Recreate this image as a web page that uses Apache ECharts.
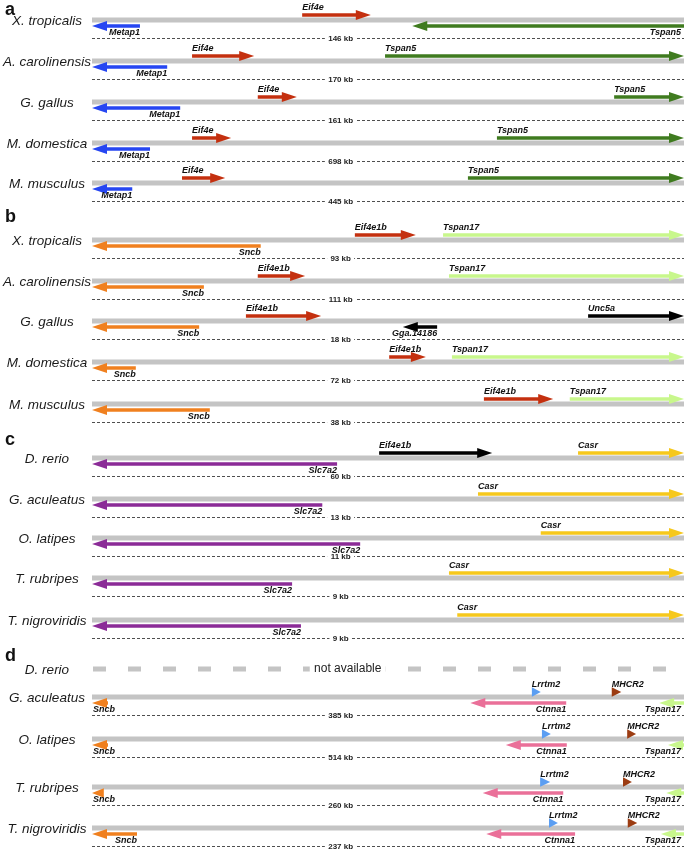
<!DOCTYPE html>
<html><head><meta charset="utf-8">
<script src="https://cdn.jsdelivr.net/npm/echarts@6/dist/echarts.min.js"></script>
<style>html,body{margin:0;padding:0;background:#fff}#c{width:685px;height:849px}</style>
</head><body><div id="c"></div>
<script>
// ================= DATA =================
const panelLetters = ["a", "b", "c", "d"];
const speciesA = ["X. tropicalis", "A. carolinensis", "G. gallus", "M. domestica", "M. musculus"];
const speciesB = ["X. tropicalis", "A. carolinensis", "G. gallus", "M. domestica", "M. musculus"];
const speciesC = ["D. rerio", "G. aculeatus", "O. latipes", "T. rubripes", "T. nigroviridis"];
const speciesD = ["D. rerio", "G. aculeatus", "O. latipes", "T. rubripes", "T. nigroviridis"];
// span of each region (kb); null = not available
const spanKbA = [146, 170, 161, 698, 445];
const spanKbB = [93, 111, 18, 72, 38];
const spanKbC = [60, 13, 11, 9, 9];
const spanKbD = [null, 385, 514, 260, 237];
// genes: [row, name, start (% of region), end (% of region), strand]
const genesA = [
  [0, "Metap1", 0, 8.1, -1], [0, "Eif4e", 35.5, 47.1, 1], [0, "Tspan5", 54.1, 100, -1],
  [1, "Metap1", 0, 12.7, -1], [1, "Eif4e", 16.9, 27.4, 1], [1, "Tspan5", 49.5, 100, 1],
  [2, "Metap1", 0, 14.9, -1], [2, "Eif4e", 28.0, 34.6, 1], [2, "Tspan5", 88.2, 100, 1],
  [3, "Metap1", 0, 9.8, -1], [3, "Eif4e", 16.9, 23.5, 1], [3, "Tspan5", 68.4, 100, 1],
  [4, "Metap1", 0, 6.8, -1], [4, "Eif4e", 15.2, 22.5, 1], [4, "Tspan5", 63.5, 100, 1]
];
const genesB = [
  [0, "Sncb", 0, 28.5, -1], [0, "Eif4e1b", 44.4, 54.7, 1], [0, "Tspan17", 59.3, 100, 1],
  [1, "Sncb", 0, 18.9, -1], [1, "Eif4e1b", 28.0, 36.0, 1], [1, "Tspan17", 60.3, 100, 1],
  [2, "Sncb", 0, 18.1, -1], [2, "Eif4e1b", 26.0, 38.7, 1], [2, "Gga.14186", 52.5, 58.3, -1], [2, "Unc5a", 83.8, 100, 1],
  [3, "Sncb", 0, 7.4, -1], [3, "Eif4e1b", 50.2, 56.4, 1], [3, "Tspan17", 60.8, 100, 1],
  [4, "Sncb", 0, 19.9, -1], [4, "Eif4e1b", 66.2, 77.9, 1], [4, "Tspan17", 80.7, 100, 1]
];
const genesC = [
  [0, "Slc7a2", 0, 41.4, -1], [0, "Eif4e1b", 48.5, 67.6, 1], [0, "Casr", 82.1, 100, 1],
  [1, "Slc7a2", 0, 38.9, -1], [1, "Casr", 65.2, 100, 1],
  [2, "Slc7a2", 0, 45.3, -1], [2, "Casr", 75.8, 100, 1],
  [3, "Slc7a2", 0, 33.8, -1], [3, "Casr", 60.3, 100, 1],
  [4, "Slc7a2", 0, 35.3, -1], [4, "Casr", 61.7, 100, 1]
];
const genesD = [
  [1, "Sncb", 0, 2.7, -1], [1, "Ctnna1", 63.9, 80.1, -1], [1, "Lrrtm2", 74.3, 75.8, 1], [1, "MHCR2", 87.8, 89.4, 1], [1, "Tspan17", 95.8, 100, -1],
  [2, "Sncb", 0, 2.7, -1], [2, "Ctnna1", 69.9, 80.2, -1], [2, "Lrrtm2", 76.0, 77.5, 1], [2, "MHCR2", 90.4, 91.9, 1], [2, "Tspan17", 97.3, 100, -1],
  [3, "Sncb", 0, 2.0, -1], [3, "Ctnna1", 66.0, 79.6, -1], [3, "Lrrtm2", 75.7, 77.4, 1], [3, "MHCR2", 89.7, 91.2, 1], [3, "Tspan17", 97.0, 100, -1],
  [4, "Sncb", 0, 7.6, -1], [4, "Ctnna1", 66.6, 81.6, -1], [4, "Lrrtm2", 77.2, 78.7, 1], [4, "MHCR2", 90.5, 92.1, 1], [4, "Tspan17", 96.1, 100, -1]
];

// ================= STYLE / LAYOUT =================
const geneColor = {
  Metap1: "#2646f2", Eif4e: "#c4300f", Tspan5: "#3f7b1f", Sncb: "#f0801f",
  Eif4e1b: "#c4300f", Tspan17: "#c8f78c", "Gga.14186": "#000000", Unc5a: "#000000",
  Slc7a2: "#8b2b97", Casr: "#f6c81c", Lrrtm2: "#5b9ef2", MHCR2: "#9c3c12", Ctnna1: "#ea7099"
};
const panelColorOverride = { 2: { Eif4e1b: "#000000" } };
const ROW_Y = [[20, 61, 102, 143, 183], [240, 281, 321, 362, 404], [458, 499, 538, 578, 620], [669, 697, 739, 787, 828]];
const LETTER_Y = [11, 218, 441, 657];
const FONT = '"Liberation Sans", Arial, sans-serif';

const speciesAll = [speciesA, speciesB, speciesC, speciesD];
const spanAll = [spanKbA, spanKbB, spanKbC, spanKbD];
const genesAll = [genesA, genesB, genesC, genesD];

const trackRows = [];
speciesAll.forEach((sp, p) => sp.forEach((name, i) => trackRows.push({ p, i, name, kb: spanAll[p][i] })));
const geneRows = [];
genesAll.forEach((gs, p) => gs.forEach(g => geneRows.push({ p, row: g[0], name: g[1], s: g[2], e: g[3], dir: g[4] })));

function renderTrack(params, api) {
  const r = trackRows[params.dataIndex];
  const yv = ROW_Y[r.p][r.i];
  const a = api.coord([0, yv]), b = api.coord([100, yv]);
  const x0 = a[0], x1 = b[0], y = a[1];
  const ch = [];
  ch.push({ type: 'text', style: { text: r.name, x: x0 - 45, y: y + 1, align: 'center', verticalAlign: 'middle', font: 'italic 13.5px ' + FONT, fill: '#1a1a1a' } });
  if (r.kb == null) {
    ch.push({ type: 'line', shape: { x1: x0 + 1, y1: y, x2: x1, y2: y }, style: { stroke: '#c4c4c4', lineWidth: 5, lineDash: [13, 22] } });
    const cx = api.coord([43.2, yv])[0];
    ch.push({ type: 'rect', shape: { x: cx - 38, y: y - 8, width: 76, height: 16 }, style: { fill: '#fff' } });
    ch.push({ type: 'text', style: { text: 'not available', x: cx, y: y, align: 'center', verticalAlign: 'middle', font: '12px ' + FONT, fill: '#222' } });
  } else {
    ch.push({ type: 'rect', shape: { x: x0, y: y - 2.5, width: x1 - x0, height: 5 }, style: { fill: '#c4c4c4' } });
    const dy = y + 18.5;
    ch.push({ type: 'line', shape: { x1: x0, y1: dy, x2: x1, y2: dy }, style: { stroke: '#222', lineWidth: 0.8, lineDash: [3, 2] } });
    const cx = api.coord([42, yv])[0];
    const t = r.kb + ' kb';
    const w = t.length * 4.6 + 4;
    ch.push({ type: 'rect', shape: { x: cx - w / 2, y: dy - 4, width: w, height: 8 }, style: { fill: '#fff' } });
    ch.push({ type: 'text', style: { text: t, x: cx, y: dy + 0.5, align: 'center', verticalAlign: 'middle', font: 'bold 8px ' + FONT, fill: '#222' } });
  }
  return { type: 'group', children: ch };
}

function renderGene(params, api) {
  const g = geneRows[params.dataIndex];
  const yv = ROW_Y[g.p][g.row];
  const ps = api.coord([g.s, yv]), pe = api.coord([g.e, yv]);
  const x0 = api.coord([0, yv])[0];
  const bar = ps[1];
  const color = (panelColorOverride[g.p] && panelColorOverride[g.p][g.name]) || geneColor[g.name];
  const len = pe[0] - ps[0];
  const HL = Math.min(15, len), HW = len < 12 ? 9.5 : 10, SW = 3.5;
  const y = bar + (g.dir > 0 ? -5 : 6);
  const ch = [];
  if (g.dir > 0) {
    const tip = pe[0];
    if (len > HL) ch.push({ type: 'rect', shape: { x: ps[0], y: y - SW / 2, width: len - HL + 1, height: SW }, style: { fill: color } });
    ch.push({ type: 'polygon', shape: { points: [[tip, y], [tip - HL, y - HW / 2], [tip - HL, y + HW / 2]] }, style: { fill: color } });
    ch.push({ type: 'text', style: { text: g.name, x: ps[0], y: bar - 12.5, align: 'left', verticalAlign: 'middle', font: 'italic bold 9px ' + FONT, fill: '#111' } });
  } else {
    const tip = ps[0];
    if (len > HL) ch.push({ type: 'rect', shape: { x: tip + HL - 1, y: y - SW / 2, width: len - HL + 1, height: SW }, style: { fill: color } });
    ch.push({ type: 'polygon', shape: { points: [[tip, y], [tip + HL, y - HW / 2], [tip + HL, y + HW / 2]] }, style: { fill: color } });
    const w = g.name.length * 5.3;
    let lx = pe[0] - (g.e >= 100 ? 3 : 0), al = 'right';
    if (lx - w < x0) { lx = ps[0] + 1; al = 'left'; }
    ch.push({ type: 'text', style: { text: g.name, x: lx, y: bar + 12.5, align: al, verticalAlign: 'middle', font: 'italic bold 9px ' + FONT, fill: '#111' } });
  }
  return { type: 'group', children: ch };
}

const chart = echarts.init(document.getElementById('c'), null, { renderer: 'canvas' });
chart.setOption({
  animation: false,
  backgroundColor: '#fff',
  grid: { left: 92, right: 1, top: 0, bottom: 0 },
  xAxis: { type: 'value', min: 0, max: 100, show: false },
  yAxis: { type: 'value', min: 0, max: 849, inverse: true, show: false },
  graphic: panelLetters.map((l, i) => ({
    type: 'text', left: 5, top: LETTER_Y[i] - 10,
    style: { text: l, font: 'bold 18px ' + FONT, fill: '#111' }
  })),
  series: [
    { type: 'custom', name: 'tracks', renderItem: renderTrack, data: trackRows.map(r => [0, ROW_Y[r.p][r.i]]), clip: false, silent: true },
    { type: 'custom', name: 'genes', renderItem: renderGene, data: geneRows.map(g => [g.s, ROW_Y[g.p][g.row]]), clip: false, silent: true }
  ]
});
</script></body></html>
